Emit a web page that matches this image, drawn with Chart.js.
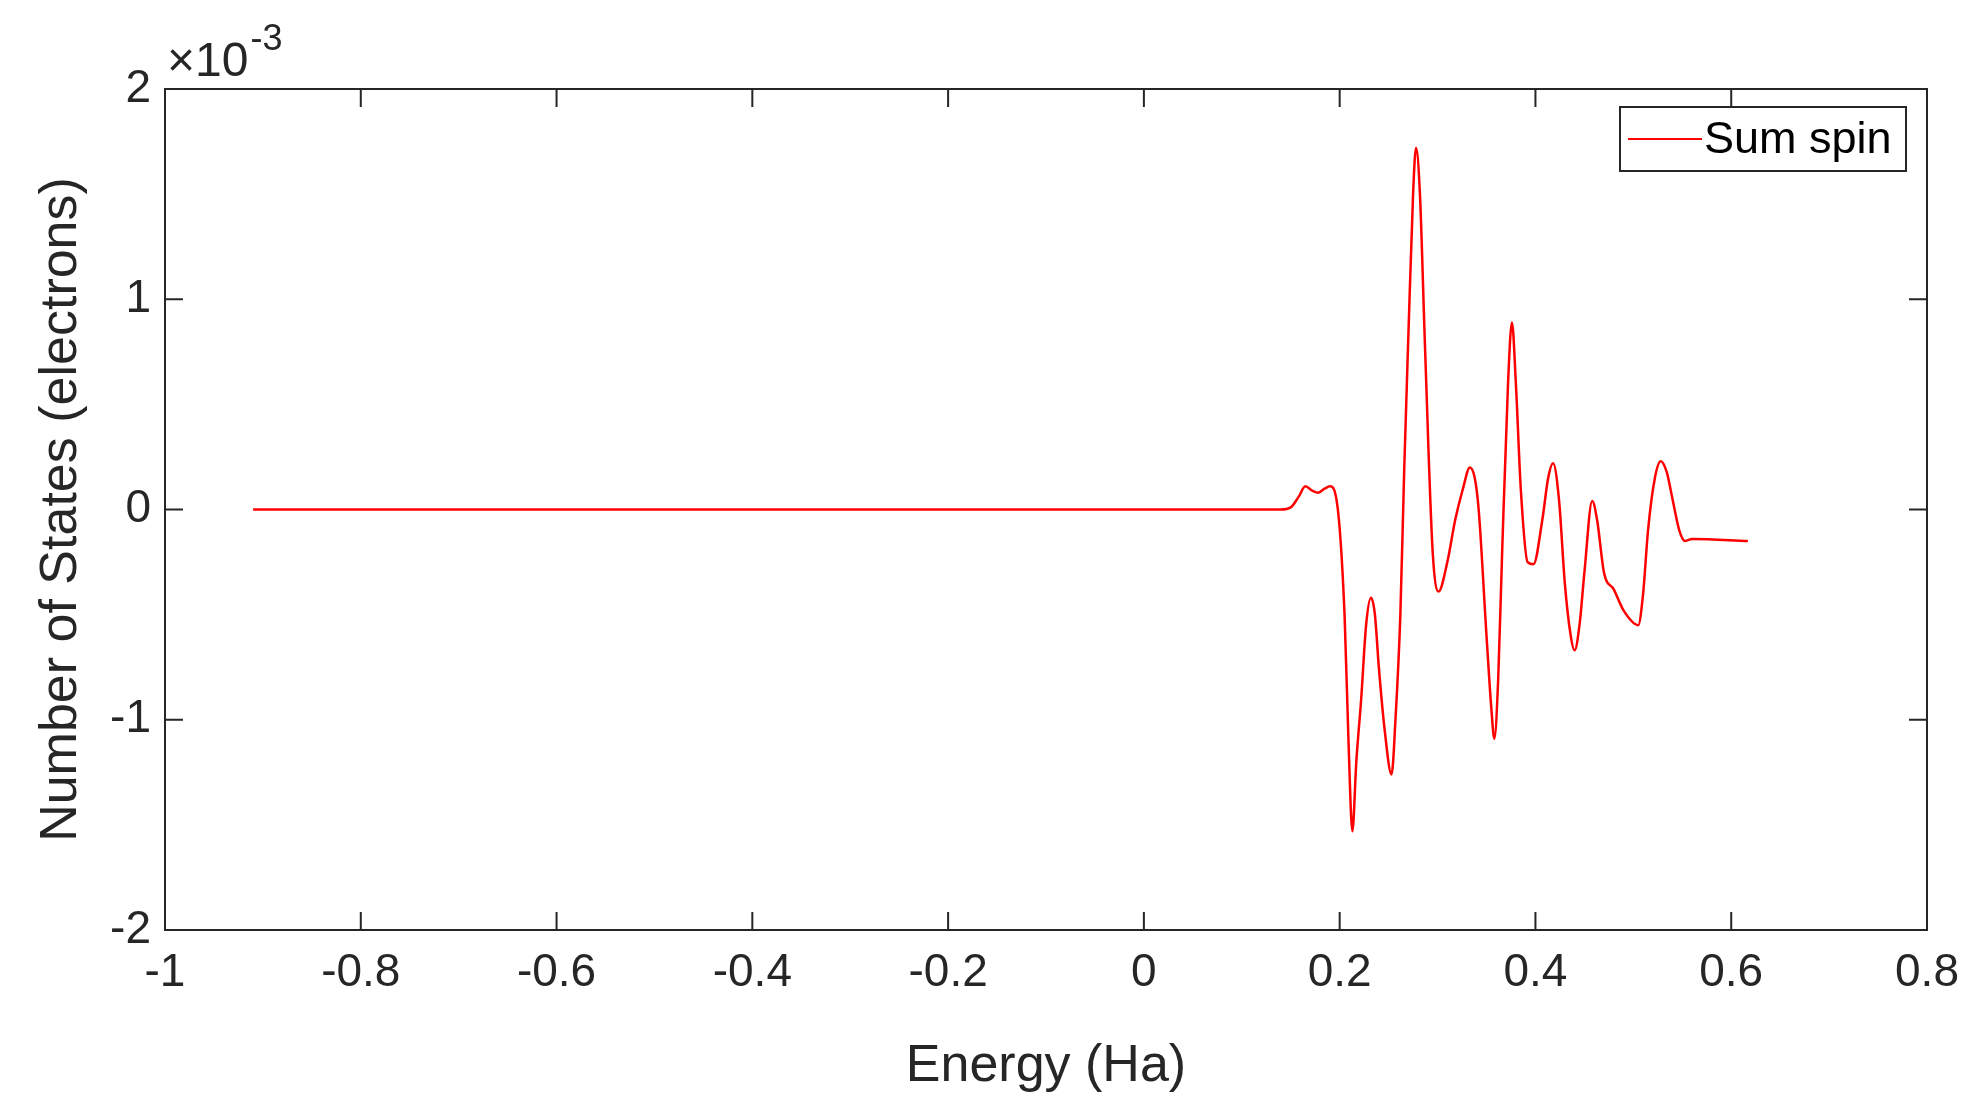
<!DOCTYPE html>
<html lang="en">
<head>
<meta charset="UTF-8">
<title>Number of States</title>
<script src="https://cdn.jsdelivr.net/npm/chart.js@4.4.0/dist/chart.umd.min.js"></script>
<style>
  body { margin: 0; background: #fff; }
  #wrap { width: 1979px; height: 1102px; }
</style>
</head>
<body>
<div id="wrap"><canvas id="canvas"></canvas></div>
<script>
    // energy (Ha) and number of states (x1e-3 electrons)
    const energy = [-0.91, 0.14, 0.15, 0.158, 0.165, 0.172, 0.178, 0.185, 0.19, 0.197, 0.205, 0.209, 0.213, 0.217,
        0.222, 0.227, 0.232, 0.236, 0.24, 0.246, 0.253, 0.257, 0.262, 0.266, 0.27, 0.275, 0.278, 0.282, 0.287,
        0.295, 0.301, 0.31, 0.318, 0.326, 0.333, 0.338, 0.342, 0.35, 0.355, 0.358, 0.362, 0.366, 0.372, 0.376,
        0.38, 0.385, 0.392, 0.398, 0.407, 0.413, 0.418, 0.424, 0.43, 0.436, 0.44, 0.445, 0.45, 0.458, 0.463,
        0.47, 0.48, 0.49, 0.505, 0.51, 0.515, 0.522, 0.528, 0.534, 0.54, 0.547, 0.553, 0.56, 0.617];
    const states = [0, 0, 0.01, 0.06, 0.11, 0.09, 0.08, 0.1, 0.11, 0.04, -0.5, -1.1, -1.53, -1.2,
        -0.9, -0.55, -0.42, -0.5, -0.75, -1.05, -1.26, -1.0, -0.5, 0.2, 0.8, 1.5, 1.72, 1.5, 0.8,
        -0.2, -0.39, -0.25, -0.05, 0.1, 0.2, 0.15, 0, -0.6, -0.95, -1.09, -0.8, -0.2, 0.6, 0.89,
        0.6, 0.1, -0.25, -0.26, -0.05, 0.15, 0.22, 0.05, -0.35, -0.6, -0.67, -0.55, -0.3, 0.04, -0.05,
        -0.3, -0.38, -0.48, -0.55, -0.4, -0.1, 0.15, 0.23, 0.18, 0.05, -0.1, -0.15, -0.14, -0.15];
    const xTicks = [-1, -0.8, -0.6, -0.4, -0.2, 0, 0.2, 0.4, 0.6, 0.8];
    const yTicks = [-2, -1, 0, 1, 2];

    const FONT = "'Liberation Sans', Arial, sans-serif";
    const TXT = "#262626";

    // MATLAB-style box with inward ticks, exponent label and legend
    const frame = {
        id: "frame",
        afterDatasetsDraw(chart) {
            const g = chart.ctx, a = chart.chartArea;
            const xs = chart.scales.x, ys = chart.scales.y;
            g.save();
            g.strokeStyle = TXT;
            g.lineWidth = 2;
            g.strokeRect(a.left, a.top, a.right - a.left, a.bottom - a.top);
            g.beginPath();
            xTicks.forEach(v => {
                const px = xs.getPixelForValue(v);
                g.moveTo(px, a.bottom); g.lineTo(px, a.bottom - 18);
                g.moveTo(px, a.top); g.lineTo(px, a.top + 18);
            });
            yTicks.forEach(v => {
                const py = ys.getPixelForValue(v);
                g.moveTo(a.left, py); g.lineTo(a.left + 18, py);
                g.moveTo(a.right, py); g.lineTo(a.right - 18, py);
            });
            g.stroke();

            // exponent
            g.fillStyle = TXT;
            g.textBaseline = "alphabetic";
            g.font = "48px " + FONT;
            g.fillText("\u00d710", a.left + 2, 76);
            const w = g.measureText("\u00d710").width;
            g.font = "36px " + FONT;
            g.fillText("-3", a.left + 4 + w, 50);

            // legend
            const lx = 1620, ly = 107, lw = 286, lh = 64;
            g.fillStyle = "#fff";
            g.fillRect(lx, ly, lw, lh);
            g.strokeStyle = TXT;
            g.lineWidth = 2;
            g.strokeRect(lx, ly, lw, lh);
            g.strokeStyle = "#ff0000";
            g.beginPath();
            g.moveTo(lx + 8, ly + lh / 2); g.lineTo(lx + 82, ly + lh / 2);
            g.stroke();
            g.fillStyle = "#000";
            g.font = "45px " + FONT;
            g.textBaseline = "middle";
            g.fillText("Sum spin", lx + 84, ly + lh / 2 + 2);
            g.restore();
        }
    };

    new Chart(document.getElementById("canvas"), {
        type: "line",
        data: {
            datasets: [{
                label: "Sum spin",
                data: energy.map((e, i) => ({ x: e, y: states[i] })),
                borderColor: "#ff0000",
                borderWidth: 2.5,
                pointRadius: 0,
                cubicInterpolationMode: "monotone",
                fill: false
            }]
        },
        options: {
            responsive: true,
            maintainAspectRatio: false,
            animation: false,
            layout: { padding: { top: 89, right: 52, left: 0, bottom: 0 } },
            plugins: { legend: { display: false }, tooltip: { enabled: false } },
            scales: {
                x: {
                    type: "linear", min: -1, max: 0.8,
                    afterBuildTicks: s => { s.ticks = xTicks.map(v => ({ value: v })); },
                    afterFit: s => { s.height = 172; },
                    grid: { display: false, drawTicks: false },
                    border: { display: false },
                    ticks: {
                        color: TXT, font: { family: FONT, size: 46 }, padding: 16, maxRotation: 0,
                        callback: v => String(Number(v.toFixed(1)))
                    },
                    title: { display: true, text: "Energy (Ha)", color: TXT, font: { family: FONT, size: 52 }, padding: { top: 2 } }
                },
                y: {
                    type: "linear", min: -2, max: 2,
                    afterBuildTicks: s => { s.ticks = yTicks.map(v => ({ value: v })); },
                    afterFit: s => { s.width = 165; },
                    grid: { display: false, drawTicks: false },
                    border: { display: false },
                    ticks: { color: TXT, font: { family: FONT, size: 46 }, padding: 14 },
                    title: { display: true, text: "Number of States (electrons)", color: TXT, font: { family: FONT, size: 52 }, padding: { top: 30, bottom: 0 } }
                }
            }
        },
        plugins: [frame]
    });
</script>
</body>
</html>
